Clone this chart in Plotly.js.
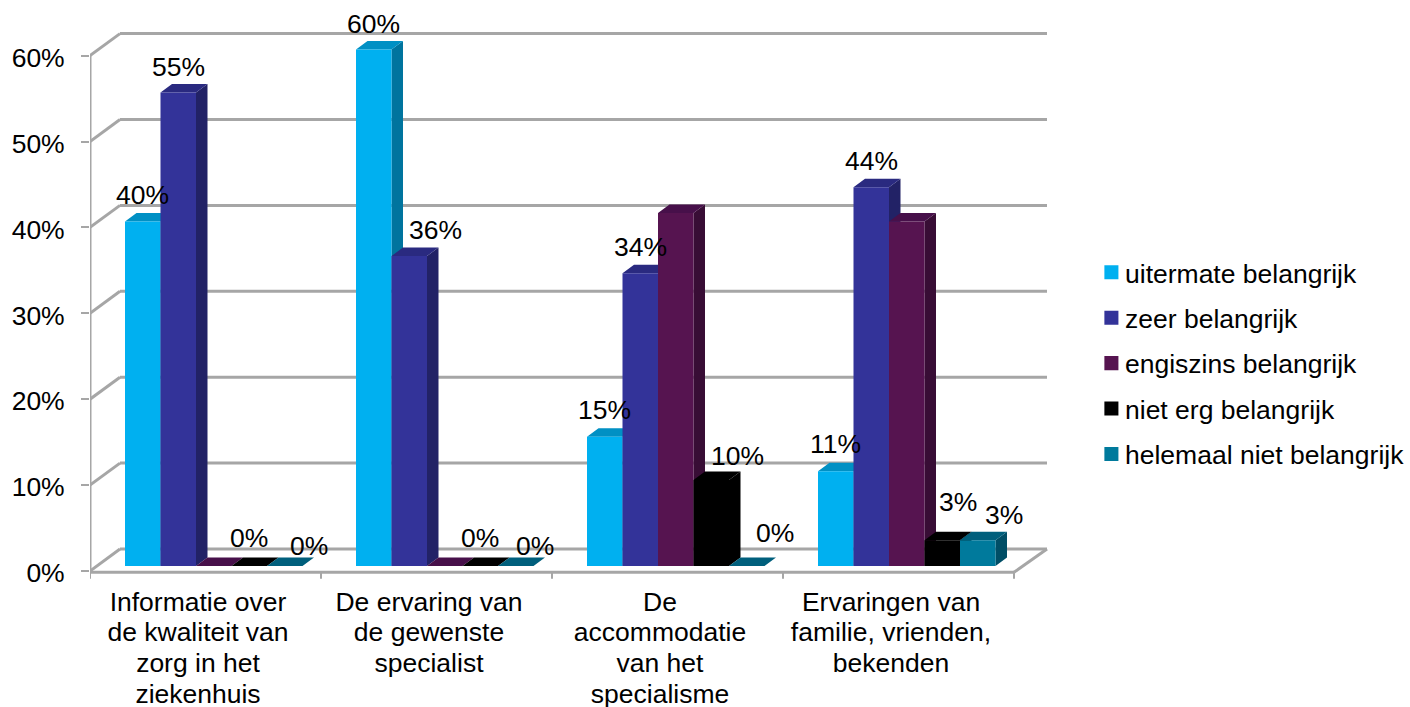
<!DOCTYPE html>
<html><head><meta charset="utf-8">
<script src="https://cdn.plot.ly/plotly-3.0.1.min.js"></script>
<style>html,body{margin:0;padding:0;background:#fff}</style></head>
<body><div id="chart" style="width:1410px;height:707px"></div>
<script>
const categories = [
  "Informatie over<br>de kwaliteit van<br>zorg in het<br>ziekenhuis",
  "De ervaring van<br>de gewenste<br>specialist",
  "De<br>accommodatie<br>van het<br>specialisme",
  "Ervaringen van<br>familie, vrienden,<br>bekenden"
];
const seriesNames = ["uitermate belangrijk","zeer belangrijk","engiszins belangrijk","niet erg belangrijk","helemaal niet belangrijk"];
const uitermate = [40,60,15,11];
const zeer = [55,36,34,44];
const engiszins = [0,0,41,40];
const nietErg = [0,0,10,3];
const helemaalNiet = [0,0,0,3];
const allSeries = [uitermate,zeer,engiszins,nietErg,helemaalNiet];
const yTicks = [0,10,20,30,40,50,60];
const yTickLabels = ["0%","10%","20%","30%","40%","50%","60%"];
const frontColors = ["#00B0F0","#333399","#561450","#000000","#007A9C"];
const sideColors  = ["#00749E","#222266","#380D35","#000000","#004E66"];
const topColors   = ["#0090C4","#2A2A80","#47104A","#000000","#005F7C"];
// label offsets [series][category] in px relative to bar centre/top; null = no label
const labelShift = [
  [[0,27],[0,25],[0,27],[0,27]],
  [[0,25],[26,26],[0,26],[0,26]],
  null,
  [[0,28],[0,28],[26,24],[16,38]],
  [[24,20],[19,20],[28,33],[26,25]]
];

// geometry (plot area in px)
const L=90,R=1050,T=20,B=580, W=R-L, H=B-T;
const FONT="Liberation Sans, Arial, sans-serif", FS=26.5;
const catPx=231;
const xRange=[(L-198)/catPx,(R-198)/catPx];
const wPx=8.59, yRange=[(571-B)/wPx,(571-T)/wPx];
const bPx=8.61;
const x2Range=[(L-213.75)/catPx,(R-213.75)/catPx];
const y2Range=[(566-B)/bPx,(566-T)/bPx];
const barW=35.5/catPx, dx=11.5/catPx, dy=8.5/bPx;
const x0=(90-198)/catPx, wallDx=30/catPx, wallDxR=33/catPx, wallDy=22/wPx, floorW=924/catPx;
const idx=categories.map((c,i)=>i);

const data=[];
allSeries.forEach((vals,s)=>{
  const sx=[],sy=[],tx=[],ty=[];
  vals.forEach((v,i)=>{
    const l=i+(s-2.5)*barW, r=l+barW;
    sx.push(r,r+dx,r+dx,r,r,null); sy.push(0,dy,v+dy,v,0,null);
    tx.push(l,l+dx,r+dx,r,l,null); ty.push(v,v+dy,v+dy,v,v,null);
  });
  data.push({type:"scatter",mode:"lines",x:sx,y:sy,fill:"toself",fillcolor:sideColors[s],line:{width:0},xaxis:"x2",yaxis:"y2",showlegend:false,hoverinfo:"skip"});
  data.push({type:"scatter",mode:"lines",x:tx,y:ty,fill:"toself",fillcolor:topColors[s],line:{width:0},xaxis:"x2",yaxis:"y2",showlegend:false,hoverinfo:"skip"});
});
allSeries.forEach((vals,s)=>{
  data.push({type:"bar",name:seriesNames[s],x:idx,y:vals,marker:{color:frontColors[s],line:{width:0}},xaxis:"x3",yaxis:"y3",legendgroup:"g"+s,hoverinfo:"skip"});
});

const grey="#A6A6A6";
const seg=(a,b,c,d,w)=>({type:"line",layer:"below",xref:"x",yref:"y",x0:a,y0:b,x1:c,y1:d,line:{color:grey,width:w||3}});
const shapes=[];
yTicks.forEach(v=>{
  shapes.push(seg(x0+wallDx,v+wallDy,x0+floorW+wallDxR,v+wallDy));
  shapes.push(seg(x0,v,x0+wallDx,v+wallDy));
});
shapes.push(seg(x0,0,x0,60));
shapes.push(seg(x0,-0.15,x0+floorW,-0.15));
shapes.push(seg(x0+floorW,-0.15,x0+floorW+wallDxR,wallDy));
[0,1,2,3,4].forEach(k=>shapes.push(seg(x0+k,-0.15,x0+k,-0.9,2)));

const annotations=[];
allSeries.forEach((vals,s)=>{
  if(!labelShift[s]) return;
  vals.forEach((v,i)=>{
    annotations.push({xref:"x3",yref:"y3",x:i+(s-2)*barW,y:v,text:v+"%",showarrow:false,xanchor:"center",yanchor:"middle",
      xshift:labelShift[s][i][0],yshift:labelShift[s][i][1],font:{family:FONT,size:FS,color:"#000"}});
  });
});

const hidden=(range,over,anchor)=>({range:range,overlaying:over,anchor:anchor,visible:false,fixedrange:true});
const layout={
  width:1410,height:707,paper_bgcolor:"#fff",plot_bgcolor:"rgba(0,0,0,0)",
  margin:{l:L,r:1410-R,t:T,b:707-B,pad:0},
  font:{family:FONT,size:FS,color:"#000"},
  barmode:"group",bargap:1-5*barW,bargroupgap:0,hovermode:false,
  xaxis:{range:xRange,tickmode:"array",tickvals:idx,ticktext:categories,ticks:"",showgrid:false,zeroline:false,showline:false,tickangle:0,fixedrange:true,tickfont:{family:FONT,size:FS,color:"#000"},ticklabelstandoff:3},
  yaxis:{range:yRange,tickmode:"array",tickvals:yTicks,ticktext:yTickLabels,ticks:"outside",ticklen:8,tickwidth:2,tickcolor:grey,showgrid:false,zeroline:false,showline:false,fixedrange:true,tickfont:{family:FONT,size:FS,color:"#000"},ticklabelstandoff:11},
  xaxis2:hidden(x2Range,"x","y2"),yaxis2:hidden(y2Range,"y","x2"),
  xaxis3:hidden(x2Range,"x","y3"),yaxis3:hidden(y2Range,"y","x3"),
  shapes:shapes,annotations:annotations,
  legend:{xref:"container",yref:"container",x:1085/1410,xanchor:"left",y:1-248.5/707,yanchor:"top",traceorder:"grouped",tracegroupgap:8,bgcolor:"rgba(0,0,0,0)",font:{family:FONT,size:FS,color:"#000"},itemclick:false,itemdoubleclick:false},
  showlegend:true
};
Plotly.newPlot("chart",data,layout,{displayModeBar:false,responsive:false}).then(()=>{
  document.querySelectorAll(".legend .legendpoints").forEach(g=>g.setAttribute("transform","translate(3,0) scale(1.17)"));
  document.querySelectorAll(".xtick text tspan.line").forEach(t=>{
    const d=parseFloat(t.getAttribute("dy"));
    if(d) t.setAttribute("dy",(d*30.7/(1.3*FS))+"em");
  });
  document.querySelectorAll(".ytick text").forEach(t=>{
    t.setAttribute("transform",(t.getAttribute("transform")||"")+" translate(0,2)");
  });
});
</script></body></html>
